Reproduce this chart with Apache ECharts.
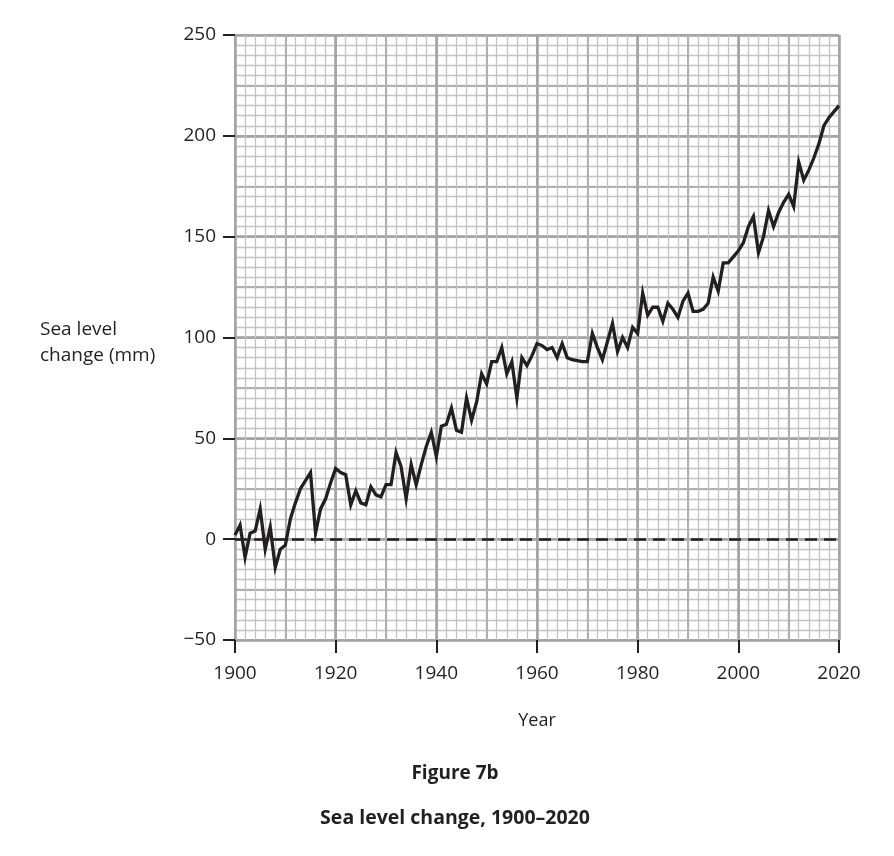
<!DOCTYPE html>
<html>
<head>
<meta charset="utf-8">
<script src="https://cdn.jsdelivr.net/npm/echarts@6/dist/echarts.min.js"></script>
<style>
html,body{margin:0;padding:0;background:#fff;}
#chart{width:894px;height:856px;}
</style>
</head>
<body>
<div id="chart"></div>
<script>
const years = [];
for (let y = 1900; y <= 2020; y++) years.push(y);

const seaLevel = [
  2, 7, -9, 3, 4, 15, -5, 6, -14, -5,
  -3, 10, 18, 25, 29, 33, 3, 15, 20, 28,
  35, 33, 32, 17, 24, 18, 17, 26, 22, 21,
  27, 27, 43, 36, 20, 37, 27, 37, 46, 53,
  41, 56, 57, 65, 54, 53, 70, 59, 68, 82,
  77, 88, 88, 95, 82, 88, 70, 90, 86, 91,
  97, 96, 94, 95, 90, 97, 90, 89, 88.5, 88,
  88, 102, 95, 89, 98, 107, 93, 100, 95, 105,
  102, 122, 111, 115, 115, 108, 117, 114, 110, 118,
  122, 113, 113, 114, 117, 130, 123, 137, 137, 140,
  143, 147, 155, 160, 142, 150, 163, 155, 162, 167,
  171, 165, 187, 178, 183, 189, 196, 205, 209, 212,
  215
];

const xTicks = [1900, 1920, 1940, 1960, 1980, 2000, 2020];
const yTicks = [-50, 0, 50, 100, 150, 200, 250];
const baseline = 0;

const textColor = '#231f20';
const fontFam = '"Open Sans", "Noto Sans", sans-serif';

function hiddenAxis(type, min, max, interval, color, width) {
  return {
    type: 'value', min: min, max: max, interval: interval,
    position: type === 'x' ? 'bottom' : 'left',
    axisLine: {show: false, onZero: false}, axisTick: {show: false}, axisLabel: {show: false},
    splitLine: {show: true, lineStyle: {color: color, width: width}}
  };
}

const chart = echarts.init(document.getElementById('chart'), null, {renderer: 'canvas'});
chart.setOption({
  animation: false,
  backgroundColor: '#ffffff',
  grid: {left: 235, right: 55, top: 35, bottom: 216, containLabel: false},
  xAxis: [
    hiddenAxis('x', xTicks[0], xTicks[xTicks.length-1], 2, '#c3c3c6', 1.3),
    hiddenAxis('x', xTicks[0], xTicks[xTicks.length-1], 10, '#b0b0b3', 2),
    {
      type: 'value', position: 'bottom',
      min: xTicks[0], max: xTicks[xTicks.length-1], interval: 20,
      axisLine: {show: false, onZero: false},
      axisTick: {show: true, length: 13, lineStyle: {color: textColor, width: 2}},
      axisLabel: {show: true, margin: 24, color: textColor, fontSize: 19, fontFamily: fontFam,
        formatter: v => String(v)},
      splitLine: {show: true, lineStyle: {color: '#a3a3a6', width: 2.5}}
    }
  ],
  yAxis: [
    hiddenAxis('y', yTicks[0], yTicks[yTicks.length-1], 5, '#c3c3c6', 1.3),
    hiddenAxis('y', yTicks[0], yTicks[yTicks.length-1], 25, '#b0b0b3', 2),
    {
      type: 'value', position: 'left',
      min: yTicks[0], max: yTicks[yTicks.length-1], interval: 50,
      axisLine: {show: false, onZero: false},
      axisTick: {show: true, length: 12, lineStyle: {color: textColor, width: 2}},
      axisLabel: {show: true, margin: 19, color: textColor, fontSize: 19, fontFamily: fontFam,
        formatter: v => String(v).replace('-', '\u2212')},
      splitLine: {show: true, lineStyle: {color: '#a3a3a6', width: 2.5}}
    }
  ],
  series: [{
    type: 'line',
    xAxisIndex: 2, yAxisIndex: 2,
    data: years.map((y, i) => [y, seaLevel[i]]),
    showSymbol: false, symbol: 'none',
    lineStyle: {color: textColor, width: 3.3, join: 'miter'},
    z: 5,
    markLine: {
      silent: true, symbol: ['none', 'none'],
      label: {show: false},
      lineStyle: {color: textColor, width: 2.5, type: [12, 7]},
      data: [{yAxis: baseline}]
    }
  }],
  graphic: [
    {type: 'text', left: 40, top: 317, style: {text: 'Sea level\nchange (mm)', fill: textColor,
      font: '19px ' + fontFam, lineHeight: 26}},
    {type: 'text', x: 537, y: 712, style: {text: 'Year', fill: textColor, align: 'center',
      font: '18px ' + fontFam}},
    {type: 'text', x: 455, y: 764, style: {text: 'Figure 7b', fill: textColor, align: 'center',
      font: 'bold 19px ' + fontFam}},
    {type: 'text', x: 455, y: 808, style: {text: 'Sea level change, 1900\u20132020', fill: textColor, align: 'center',
      font: 'bold 19.5px ' + fontFam}}
  ]
});
</script>
</body>
</html>
